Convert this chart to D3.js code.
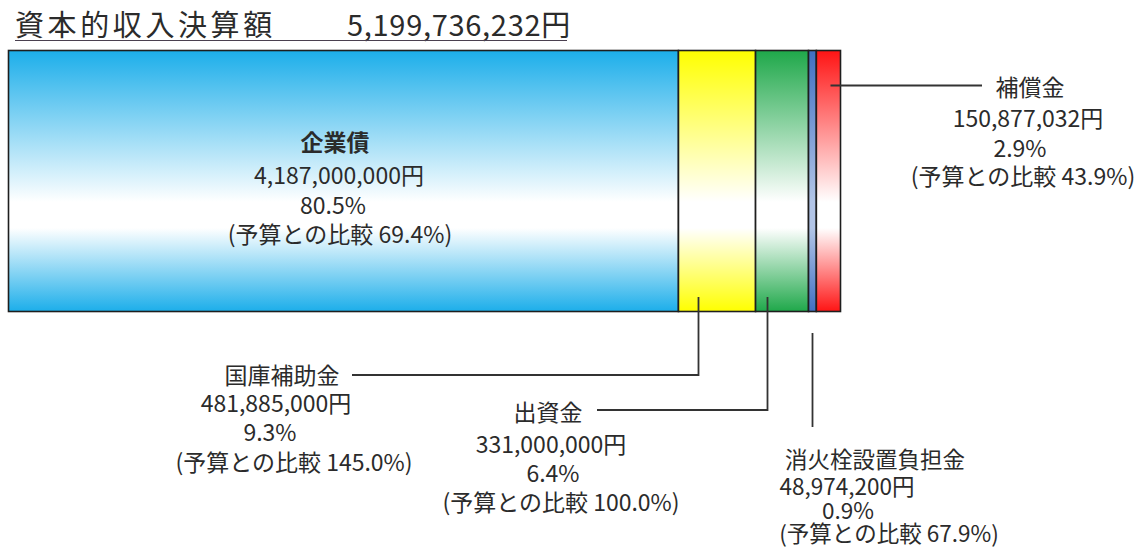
<!DOCTYPE html>
<html>
<head>
<meta charset="utf-8">
<script src="https://cdn.jsdelivr.net/npm/d3@7"></script>
<style>
  body { margin: 0; background: #fff; }
  svg { display: block; }
  text { font-family: "Noto Sans CJK JP", "Noto Sans", sans-serif; fill: #2b2b2b; }
</style>
</head>
<body>
<svg id="chart" width="1147" height="549"></svg>
<script>
// Capital income breakdown (資本的収入決算額)
const titleText = "資本的収入決算額";
const categories = ["企業債", "国庫補助金", "出資金", "消火栓設置負担金", "補償金"];
const amounts = [4187000000, 481885000, 331000000, 48974200, 150877032];
const budgetRatios = ["69.4%", "145.0%", "100.0%", "67.9%", "43.9%"];
const colors = ["#1caeea", "#ffff00", "#1fa84a", "#3f6fc2", "#ff1414"];

const svg = d3.select("#chart");
const total = d3.sum(amounts);
const fmtYen = d => d3.format(",")(d) + "円";
const fmtPct = d3.format(".1%");

// stacked positions
let acc = 0;
const segs = categories.map((c, i) => {
  const s = { name: c, value: amounts[i], start: acc, color: colors[i], i };
  acc += amounts[i];
  return s;
});

const x = d3.scaleLinear().domain([0, total]).range([8.5, 840.5]);
const barTop = 50.5, barBottom = 311.5;

// vertical gradients: colour -> white band -> colour
const defs = svg.append("defs");
segs.forEach(s => {
  const mid = s.i === 3 ? d3.interpolateRgb(s.color, "#ffffff")(0.6) : "#ffffff";
  const g = defs.append("linearGradient")
    .attr("id", "grad" + s.i)
    .attr("x1", 0).attr("y1", 0).attr("x2", 0).attr("y2", 1);
  [[0, s.color], [0.58, mid], [0.68, mid], [1, s.color]].forEach(([o, c]) => {
    g.append("stop").attr("offset", o).attr("stop-color", c);
  });
});

// title
const title = svg.append("g");
title.append("text")
  .attr("x", 15).attr("y", 36)
  .attr("font-size", 29).attr("letter-spacing", 3.6)
  .attr("fill", "#333")
  .text(titleText);
title.append("text")
  .attr("x", 347).attr("y", 36)
  .attr("font-size", 29).attr("letter-spacing", 0.7)
  .attr("fill", "#333")
  .text(fmtYen(total));
title.append("line")
  .attr("x1", 15).attr("x2", 567).attr("y1", 40.5).attr("y2", 40.5)
  .attr("stroke", "#4a4050").attr("stroke-width", 1.2);

// bars
svg.append("g").selectAll("rect").data(segs).join("rect")
  .attr("x", d => x(d.start))
  .attr("y", barTop)
  .attr("width", d => x(d.start + d.value) - x(d.start))
  .attr("height", barBottom - barTop)
  .attr("fill", d => `url(#grad${d.i})`)
  .attr("stroke", "#1e1e1e")
  .attr("stroke-width", 1.6);

// label placement: per-line anchor x and middle y
const labelLayout = {
  "企業債":        { xs: [335, 339, 333, 340],  ys: [141, 174, 204, 233], size: 23, bold: true },
  "国庫補助金":    { xs: [282, 276, 270, 294],  ys: [374, 402, 431, 461], size: 23 },
  "出資金":        { xs: [548, 551, 553, 561],  ys: [411, 443, 472, 501], size: 23 },
  "消火栓設置負担金": { xs: [875, 847, 848, 889], ys: [458, 485, 509, 532], size: 22.5 },
  "補償金":        { xs: [1030, 1028, 1020, 1023], ys: [86, 117, 147, 175], size: 23 }
};

// leader lines: fraction across the segment where the line meets the bar
const leaders = {
  "国庫補助金": { frac: 0.25, path: sx => [[352, 375], [sx, 375], [sx, 297]] },
  "出資金":     { frac: 0.21, path: sx => [[597, 410], [sx, 410], [sx, 297]] },
  "消火栓設置負担金": { frac: 0.5, path: sx => [[sx, 333], [sx, 427]] },
  "補償金":     { frac: 0.55, path: sx => [[sx, 85.5], [982, 85.5]] }
};

const line = d3.line();
segs.forEach(s => {
  const ld = leaders[s.name];
  if (!ld) return;
  const sx = Math.round(x(s.start) + ld.frac * (x(s.start + s.value) - x(s.start))) + 0.5;
  svg.append("path")
    .attr("d", line(ld.path(sx)))
    .attr("fill", "none")
    .attr("stroke", "#333")
    .attr("stroke-width", 1.8);
});

segs.forEach(s => {
  const lay = labelLayout[s.name];
  const lines = [
    s.name,
    fmtYen(s.value),
    fmtPct(s.value / total),
    "(予算との比較 " + budgetRatios[s.i] + ")"
  ];
  const g = svg.append("g");
  lines.forEach((t, k) => {
    g.append("text")
      .attr("x", lay.xs[k])
      .attr("y", lay.ys[k])
      .attr("text-anchor", "middle")
      .attr("dominant-baseline", "central")
      .attr("font-size", lay.size)
      .attr("font-weight", lay.bold && k === 0 ? 700 : 400)
      .text(t);
  });
});
</script>
</body>
</html>
